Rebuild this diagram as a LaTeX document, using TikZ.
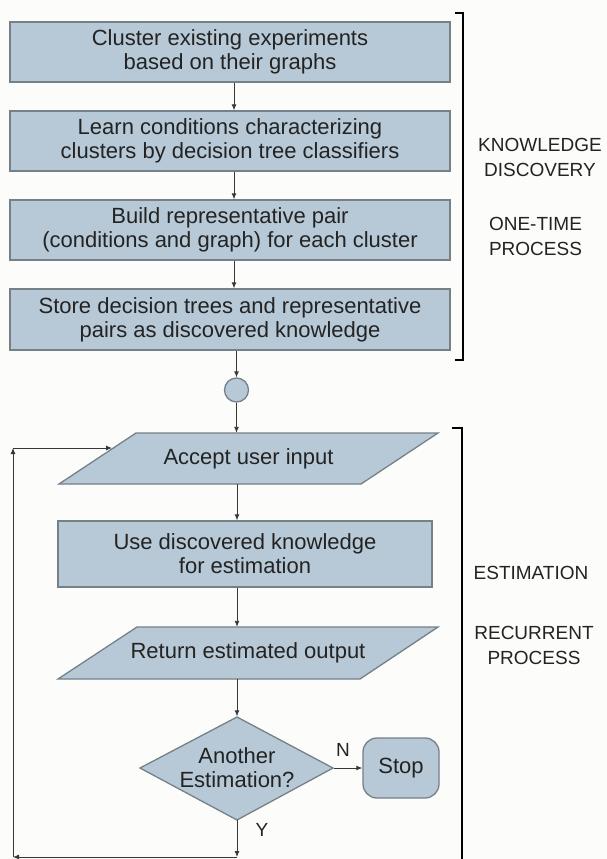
\documentclass[tikz,border=0pt]{standalone}
\usepackage{fontspec}
\setmainfont{Liberation Sans}
\usetikzlibrary{arrows.meta,calc}
\definecolor{boxfill}{RGB}{183,201,214}
\definecolor{boxline}{RGB}{118,128,135}
\definecolor{ink}{RGB}{35,35,35}
\definecolor{wire}{RGB}{55,55,55}
\definecolor{paper}{RGB}{252,252,250}
\begin{document}
\begin{tikzpicture}[x=1pt,y=-1pt,
  boxtext/.style={font=\fontsize{22}{24}\selectfont, text=ink, align=center, inner sep=0pt},
  proc/.style={boxtext, draw=boxline, fill=boxfill, line width=1.3pt,
    minimum width=440pt, minimum height=60pt},
  shapeline/.style={draw=boxline, fill=boxfill, line width=1.3pt, line join=miter},
  flow/.style={draw=wire, line width=0.9pt, -{Latex[length=6pt,width=5pt]}},
  bracketline/.style={draw=black, line width=2pt},
  side/.style={font=\fontsize{19}{25}\selectfont, text=ink, align=center, inner sep=0pt},
  tag/.style={font=\fontsize{19}{22}\selectfont, text=ink, inner sep=0pt}]

% page
\fill[paper] (0,0) rectangle (607,859);
\useasboundingbox (0,0) rectangle (607,859);

% guide lines for the vertical flow
\coordinate (axtop) at (234,0);
\coordinate (axlow) at (237,0);

% ---- one-time knowledge discovery ----
\node[proc] (b1) at (230,52)  {Cluster existing experiments\\based on their graphs};
\node[proc] (b2) at (230,141) {Learn conditions characterizing\\clusters by decision tree classifiers};
\node[proc] (b3) at (230,230) {Build representative pair\\(conditions and graph) for each cluster};
\node[proc, minimum height=61pt] (b4) at (230,319.5) {Store decision trees and representative\\pairs as discovered knowledge};

\draw[flow] (b1.south -| axtop) -- (b2.north -| axtop);
\draw[flow] (b2.south -| axtop) -- (b3.north -| axtop);
\draw[flow] (b3.south -| axtop) -- (b4.north -| axtop);

% connector circle
\node[circle, draw=boxline, fill=boxfill, line width=1.3pt, minimum size=24pt, inner sep=0pt] (hub) at (236.5,390) {};
\draw[flow] (b4.south -| hub) -- (hub.north);

% ---- recurrent estimation ----
\draw[shapeline] (59,484) -- (136,433) -- (438,433) -- (361,484) -- cycle;
\node[boxtext, minimum height=51pt] (acc) at (248.5,458.5) {Accept user input};
\draw[flow] (hub.south) -- (acc.north -| hub);

\node[proc, minimum width=374pt, minimum height=66pt] (use) at (245,554) {Use discovered knowledge\\for estimation};
\draw[flow] (acc.south -| axlow) -- (use.north -| axlow);

\draw[shapeline] (58,679) -- (137,627) -- (438,627) -- (360,679) -- cycle;
\node[boxtext, minimum height=52pt] (ret) at (248,653) {Return estimated output};
\draw[flow] (use.south -| axlow) -- (ret.north -| axlow);

\draw[shapeline] (237,717) -- (333,768) -- (237,820) -- (140,768) -- cycle;
\node[boxtext, minimum width=193pt, minimum height=103pt] (dec) at (237,768) {Another\\Estimation?};
\draw[flow] (ret.south -| axlow) -- (dec.north);

\node[boxtext, draw=boxline, fill=boxfill, line width=1.3pt, rounded corners=14pt,
  minimum width=76pt, minimum height=60pt] (stop) at (401,768) {Stop};
\draw[flow] (dec.east) -- (stop.west);
\node[tag] (lblN) at (343,750) {N};

% loop back to the input step
\coordinate (c1) at (237,857);
\coordinate (c2) at (13,857);
\coordinate (c3) at (13,448);
\coordinate (c4) at (112,448);
\draw[flow] (dec.south) -- (c1);
\draw[flow] (c1) -- (c2);
\draw[flow] (c2) -- (c3);
\draw[flow] (c3) -- (c4);
\node[tag] (lblY) at (262,830) {Y};

% ---- phase brackets and their captions ----
\draw[bracketline] (455,13) -- (463,13) -- (463,360) -- (455,360);
\draw[bracketline] (452,428) -- (462,428) -- (462,859);

\node[side] (kd) at (540,157.5) {KNOWLEDGE\\DISCOVERY};
\node[side] (ot) at (535.5,236) {ONE-TIME\\PROCESS};
\node[side] (es) at (531,573) {ESTIMATION};
\node[side] (rp) at (534,645) {RECURRENT\\PROCESS};
\end{tikzpicture}
\end{document}
